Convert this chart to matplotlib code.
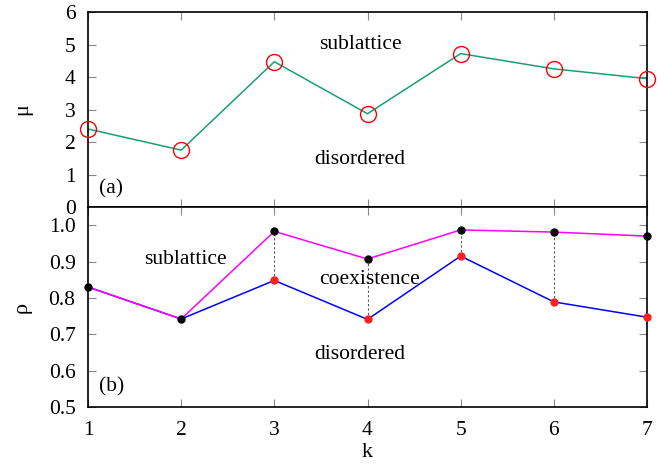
import matplotlib
matplotlib.use("Agg")
import matplotlib.pyplot as plt
import numpy as np

plt.rcParams['font.family'] = ['Liberation Serif', 'DejaVu Serif']
plt.rcParams['mathtext.fontset'] = 'stix'

k = [1, 2, 3, 4, 5, 6, 7]
mu = [2.40, 1.75, 4.47, 2.87, 4.72, 4.25, 3.95]
rho_upper = [0.830, 0.742, 0.983, 0.907, 0.987, 0.981, 0.970]
rho_lower = [0.830, 0.742, 0.848, 0.741, 0.915, 0.789, 0.747]
coex_k = [3, 4, 5, 6]

fig = plt.figure(figsize=(6.71, 4.65), dpi=100)
ax1 = fig.add_axes([88/671, 1-207/465, (647-88)/671, (207-12)/465])
ax2 = fig.add_axes([88/671, 1-407/465, (647-88)/671, (407-207)/465])

for ax in (ax1, ax2):
    ax.tick_params(direction='in', top=True, right=True, length=6, width=0.8,
                   labelsize=15.5, color='#888888')
    ax.tick_params(axis='y', pad=9)
    ax.tick_params(axis='x', pad=10)
    for s in ax.spines.values():
        s.set_linewidth(1.2)
    ax.set_xlim(1, 7)

ax1.plot(k, mu, color='#1a9e77', lw=1.1, zorder=2)
ax1.plot(k, mu, ls='none', marker='o', ms=11.5, mfc='none', mec='#ff0000', mew=1.0,
         zorder=3, clip_on=False)
ax1.set_ylim(0, 6)
ax1.set_yticks([0, 1, 2, 3, 4, 5, 6])
ax1.set_xticks(k)
ax1.set_xticklabels([])
ax1.set_ylabel('μ', fontsize=16)
ax1.text(3.92, 5, 'sublattice', fontsize=15.5, ha='center', va='center')
ax1.text(3.92, 1.45, 'disordered', fontsize=15.5, ha='center', va='center')
ax1.text(1.12, 0.55, '(a)', fontsize=15.5, ha='left', va='center')

for kk in coex_k:
    i = k.index(kk)
    ax2.plot([kk, kk], [rho_lower[i], rho_upper[i]], color='#555555', lw=0.8,
             ls=(0, (2, 2)), zorder=1)
ax2.plot(k, rho_lower, color='#0000ff', lw=1.1, zorder=2)
ax2.plot(k, rho_upper, color='#ff00ff', lw=1.1, zorder=2)
ax2.plot(k[2:], rho_lower[2:], ls='none', marker='o', ms=5, mfc='#ff2020',
         mec='#ff2020', zorder=3, clip_on=False)
ax2.plot(k, rho_upper, ls='none', marker='o', ms=5, mfc='black', mec='black',
         zorder=4, clip_on=False)
ax2.set_ylim(0.5, 1.05)
ax2.set_yticks([0.5, 0.6, 0.7, 0.8, 0.9, 1.0])
ax2.set_yticklabels(['0.5', '0.6', '0.7', '0.8', '0.9', '1.0'])
ax2.set_xticks(k)
ax2.set_ylabel('ρ', fontsize=16)
ax2.set_xlabel('k', fontsize=16, labelpad=2)
ax2.text(2.05, 0.905, 'sublattice', fontsize=15.5, ha='center', va='center')
ax2.text(4.02, 0.852, 'coexistence', fontsize=15.5, ha='center', va='center')
ax2.text(3.92, 0.645, 'disordered', fontsize=15.5, ha='center', va='center')
ax2.text(1.12, 0.555, '(b)', fontsize=15.5, ha='left', va='center')

ax1.yaxis.set_label_coords(-0.1, 0.5)
ax2.yaxis.set_label_coords(-0.1, 0.5)

fig.savefig('out.png', dpi=100)
